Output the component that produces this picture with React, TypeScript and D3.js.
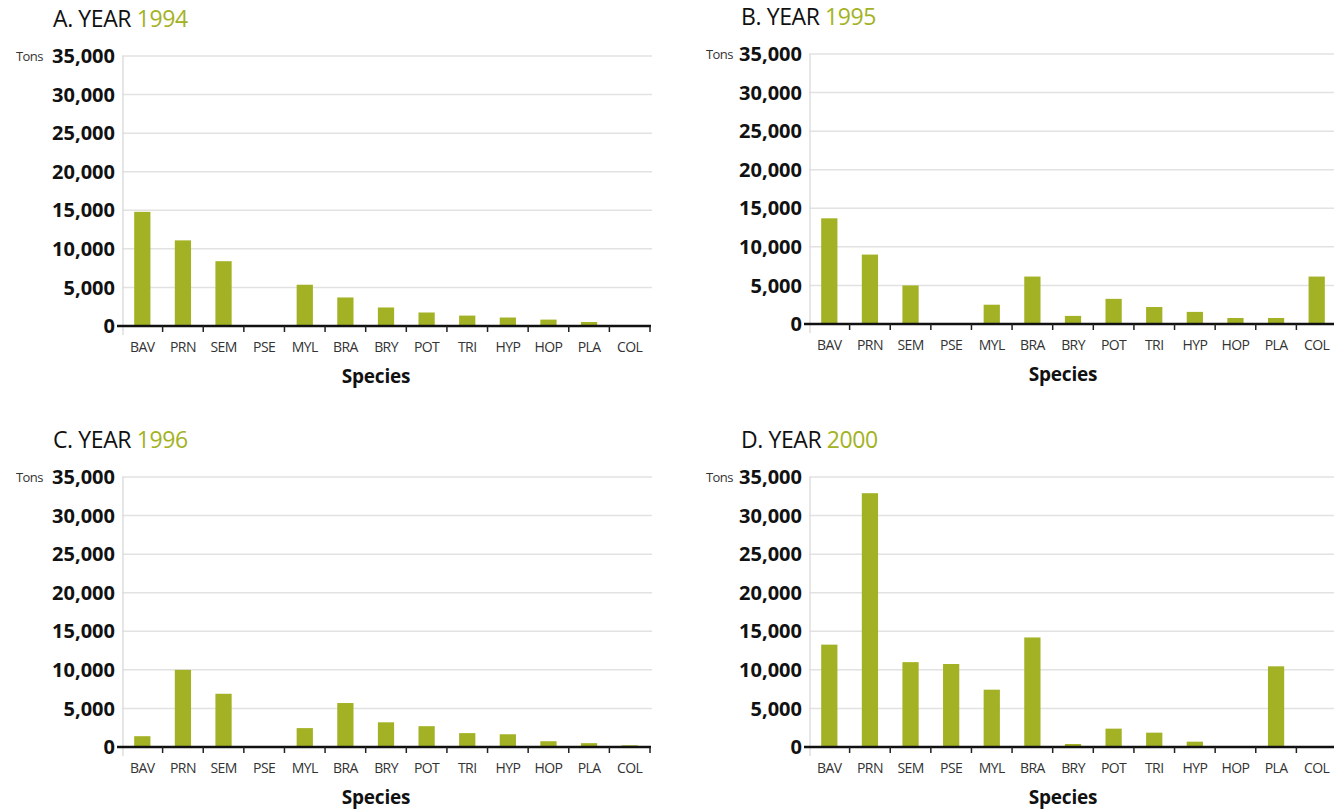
import React, { useEffect, useRef } from 'react';
import * as d3 from 'd3';

const species = ['BAV', 'PRN', 'SEM', 'PSE', 'MYL', 'BRA', 'BRY', 'POT', 'TRI', 'HYP', 'HOP', 'PLA', 'COL'];

const tons1994 = [14800, 11100, 8400, 0, 5350, 3700, 2400, 1750, 1350, 1100, 830, 520, 0];
const tons1995 = [13700, 9000, 5000, 0, 2500, 6150, 1050, 3260, 2200, 1570, 780, 780, 6150];
const tons1996 = [1400, 10000, 6900, 0, 2450, 5700, 3200, 2700, 1800, 1650, 750, 500, 220];
const tons2000 = [13270, 32900, 11000, 10760, 7430, 14200, 390, 2380, 1860, 690, 0, 10460, 0];

const yTicks = [0, 5000, 10000, 15000, 20000, 25000, 30000, 35000];

const panels = [
  { letter: 'A', year: '1994', values: tons1994, left: 122, top: 56, titleX: 53, titleY: 27, tonsX: 16 },
  { letter: 'B', year: '1995', values: tons1995, left: 809, top: 54, titleX: 741, titleY: 25, tonsX: 706 },
  { letter: 'C', year: '1996', values: tons1996, left: 122, top: 477, titleX: 53, titleY: 448, tonsX: 16 },
  { letter: 'D', year: '2000', values: tons2000, left: 809, top: 477, titleX: 741, titleY: 448, tonsX: 706 },
];

const GREEN = '#a3b224';
const FONT = '"Open Sans", "Noto Sans", sans-serif';

const App = () => {
  const svgRef = useRef(null);

  useEffect(() => {
    const svg = d3.select(svgRef.current);
    svg.selectAll('*').remove();

    const plotW = 528;
    const plotH = 270;

    panels.forEach(p => {
      const g = svg.append('g');

      const x = d3.scaleBand()
        .domain(species)
        .range([p.left, p.left + plotW])
        .padding(0);

      const xBar = d3.scaleBand()
        .domain(species)
        .range([p.left, p.left + plotW])
        .paddingInner(0.6)
        .paddingOuter(0.3);

      const y = d3.scaleLinear()
        .domain([0, 35000])
        .range([p.top + plotH, p.top]);

      // title
      const title = g.append('text')
        .attr('x', p.titleX)
        .attr('y', p.titleY)
        .attr('font-family', FONT)
        .attr('font-size', 23)
        .attr('letter-spacing', -0.4);
      title.append('tspan').attr('fill', '#111').text(`${p.letter}. YEAR `);
      title.append('tspan').attr('fill', GREEN).text(p.year);

      // gridlines
      g.selectAll('.grid')
        .data(yTicks.filter(t => t > 0))
        .enter()
        .append('line')
        .attr('x1', p.left)
        .attr('x2', Math.min(p.left + plotW + 2, 1334))
        .attr('y1', d => y(d))
        .attr('y2', d => y(d))
        .attr('stroke', '#e2e2e2')
        .attr('stroke-width', 1.5);

      // y axis line
      g.append('line')
        .attr('x1', p.left + 1)
        .attr('x2', p.left + 1)
        .attr('y1', y(35000))
        .attr('y2', y(0) + 9)
        .attr('stroke', '#dedede')
        .attr('stroke-width', 1.5);

      // y tick labels
      g.selectAll('.ylab')
        .data(yTicks)
        .enter()
        .append('text')
        .attr('x', p.left - 7)
        .attr('y', d => y(d))
        .attr('dy', '0.36em')
        .attr('text-anchor', 'end')
        .attr('font-family', FONT)
        .attr('font-weight', 700)
        .attr('font-size', 20)
        .attr('letter-spacing', 0)
        .attr('fill', '#111')
        .text(d => d3.format(',')(d));

      g.append('text')
        .attr('x', p.tonsX)
        .attr('y', y(35000))
        .attr('dy', '0.36em')
        .attr('font-family', FONT)
        .attr('font-size', 13)
        .attr('letter-spacing', -0.6)
        .attr('fill', '#333')
        .text('Tons');

      // bars
      g.selectAll('.bar')
        .data(p.values)
        .enter()
        .append('rect')
        .attr('x', (d, i) => xBar(species[i]) ?? 0)
        .attr('width', xBar.bandwidth())
        .attr('y', d => y(d))
        .attr('height', d => y(0) - y(d))
        .attr('fill', GREEN);

      // x axis line
      g.append('line')
        .attr('x1', p.left - 5)
        .attr('x2', Math.min(p.left + plotW + 1, 1334))
        .attr('y1', y(0))
        .attr('y2', y(0))
        .attr('stroke', '#111')
        .attr('stroke-width', 2.5);

      // tick marks at category boundaries
      g.selectAll('.xtick')
        .data(species)
        .enter()
        .append('line')
        .attr('x1', d => (x(d) ?? 0) + x.bandwidth())
        .attr('x2', d => (x(d) ?? 0) + x.bandwidth())
        .attr('y1', y(0))
        .attr('y2', y(0) + 6)
        .attr('stroke', '#222')
        .attr('stroke-width', 1.5);

      // category labels
      g.selectAll('.xlab')
        .data(species)
        .enter()
        .append('text')
        .attr('x', d => (x(d) ?? 0) + x.bandwidth() / 2)
        .attr('y', y(0) + 21)
        .attr('dy', '0.36em')
        .attr('text-anchor', 'middle')
        .attr('font-family', FONT)
        .attr('font-size', 14)
        .attr('letter-spacing', -0.6)
        .attr('fill', '#333')
        .text(d => d);

      g.append('text')
        .attr('x', p.left + plotW / 2 - 10)
        .attr('y', y(0) + 50)
        .attr('dy', '0.36em')
        .attr('text-anchor', 'middle')
        .attr('font-family', FONT)
        .attr('font-weight', 700)
        .attr('font-size', 19)
        .attr('letter-spacing', -0.2)
        .attr('fill', '#111')
        .text('Species');
    });
  }, []);

  return (
    <svg
      ref={svgRef}
      width="1334"
      height="811"
      style={{ position: 'absolute', left: 0, top: 0, background: '#fff' }}
    ></svg>
  );
};

export default App;
